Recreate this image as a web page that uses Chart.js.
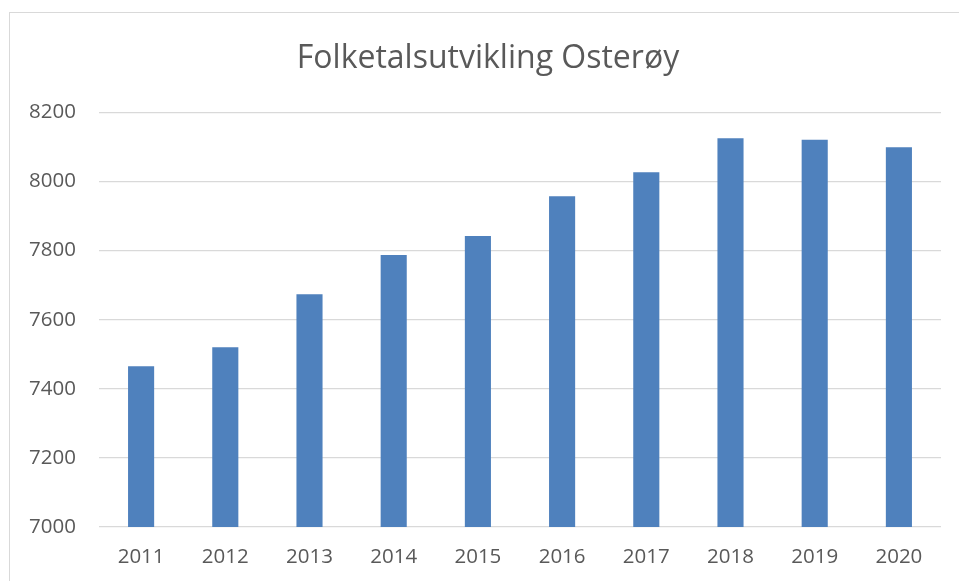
<!DOCTYPE html>
<html>
<head>
<meta charset="utf-8">
<script src="https://cdn.jsdelivr.net/npm/chart.js@4/dist/chart.umd.min.js"></script>
<style>
  html, body { margin: 0; padding: 0; background: #fff; overflow: hidden; width: 959px; height: 581px; }
  #card { position: absolute; left: 9px; top: 12px; width: 956px; height: 600px; border: 1px solid #d9d9d9; background: #fff; }
  canvas { display: block; }
</style>
</head>
<body>
<div id="card"><canvas id="c" width="956" height="568"></canvas></div>
<script>
const categories = ['2011','2012','2013','2014','2015','2016','2017','2018','2019','2020'];
const population = [7465, 7520, 7674, 7787, 7842, 7957, 8027, 8125, 8121, 8099];
const yTicks = [7000, 7200, 7400, 7600, 7800, 8000, 8200];
const titleText = 'Folketalsutvikling Osterøy';

const FONT = "'Open Sans', 'Liberation Sans', sans-serif";
const TEXT = '#595959';

new Chart(document.getElementById('c'), {
  type: 'bar',
  data: {
    labels: categories,
    datasets: [{
      data: population,
      yAxisID: 'y',
      backgroundColor: '#4f81bd',
      borderWidth: 0,
      categoryPercentage: 1,
      barPercentage: 0.31
    }]
  },
  options: {
    responsive: false,
    animation: false,
    devicePixelRatio: 1,
    layout: { padding: 0 },
    plugins: {
      legend: { display: false },
      tooltip: { enabled: false },
      title: {
        display: true,
        text: titleText,
        color: TEXT,
        font: { family: FONT, size: 32, weight: 'normal', lineHeight: 1.2 },
        padding: { top: 27, bottom: 34 }
      }
    },
    scales: {
      x: {
        grid: { display: false, drawTicks: false },
        border: { display: false },
        ticks: { color: TEXT, font: { family: FONT, size: 20.5 }, padding: 18, maxRotation: 0 },
        afterFit(scale) { scale.height = 54; }
      },
      y: {
        min: 7000,
        max: 8200,
        afterBuildTicks(scale) { scale.ticks = yTicks.map(v => ({ value: v })); },
        grid: { color: '#d9d9d9', lineWidth: 1.3, drawTicks: false },
        border: { display: false },
        ticks: { color: TEXT, font: { family: FONT, size: 20.5 }, padding: 23, callback: v => String(v) },
        afterFit(scale) { scale.width = 89; }
      },
      spacer: {
        type: 'linear',
        position: 'right',
        display: true,
        grid: { display: false, drawTicks: false },
        border: { display: false },
        ticks: { display: false },
        afterFit(scale) { scale.width = 25; }
      }
    }
  }
});
</script>
</body>
</html>
